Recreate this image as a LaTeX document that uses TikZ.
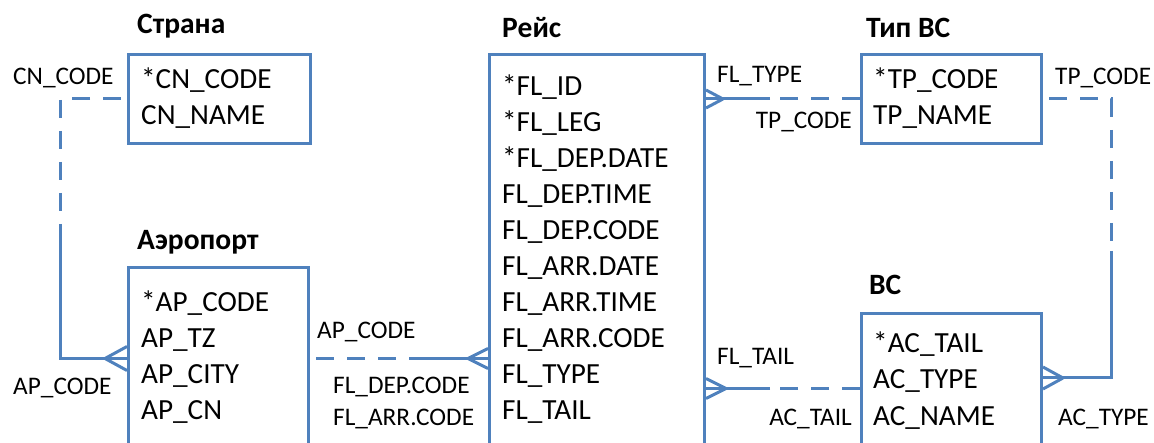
\documentclass[tikz,border=0pt]{standalone}
\usepackage{fontspec}
\setmainfont{Carlito}
\usetikzlibrary{calc}
\definecolor{erblue}{RGB}{79,129,189}
\newcommand\crowfoot[3]{%
  \draw[rel] ($(#1)+(#2,0)$) -- ($(#1)+(0,#3)$) ($(#1)+(#2,0)$) -- ($(#1)+(0,-#3)$);}
\begin{document}
\begin{tikzpicture}[x=1pt,y=-1pt,
  ent/.style={draw=erblue, line width=3pt, rectangle, inner sep=0pt, anchor=north west},
  fld/.style={anchor=base west, inner sep=0pt, font=\fontsize{29.2}{34}\selectfont},
  ttl/.style={anchor=base west, inner sep=0pt, font=\bfseries\fontsize{29.5}{33}\selectfont},
  lbl/.style={anchor=base west, inner sep=0pt, font=\fontsize{25.3}{29}\selectfont},
  lblr/.style={lbl, anchor=base east},
  rel/.style={draw=erblue, line width=3pt},
  opt/.style={rel, dash pattern=on 18pt off 13pt},
  optgap/.style={opt, dash phase=25pt},
]
\useasboundingbox (0,0) rectangle (1154,443);
\clip (0,0) rectangle (1154,443);

% entities
\node[ent, minimum width=182pt, minimum height=89pt] (strana) at (127,53) {};
\node[ent, minimum width=180pt, minimum height=182pt] (aero) at (127,266) {};
\node[ent, minimum width=215pt, minimum height=420pt] (reis) at (488,53) {};
\node[ent, minimum width=180pt, minimum height=89pt] (tip) at (860,53) {};
\node[ent, minimum width=180pt, minimum height=150pt] (vs) at (860,312) {};

% titles
\node[ttl] (tstrana) at (137,34) {Страна};
\node[ttl] (taero) at (137,250) {Аэропорт};
\node[ttl] (treis) at (502,38) {Рейс};
\node[ttl] (ttip) at (866,38) {Тип ВС};
\node[ttl] (tvs) at (869,295) {ВС};

% fields
\foreach \t [count=\i] in {*CN\_CODE, CN\_NAME}
  \node[fld] (fs\i) at (141,{89+36*(\i-1)}) {\t};
\foreach \t [count=\i] in {*AP\_CODE, AP\_TZ, AP\_CITY, AP\_CN}
  \node[fld] (fa\i) at (141,{312+36*(\i-1)}) {\t};
\foreach \t [count=\i] in {*FL\_ID, *FL\_LEG, *FL\_DEP.DATE, FL\_DEP.TIME, FL\_DEP.CODE, FL\_ARR.DATE, FL\_ARR.TIME, FL\_ARR.CODE, FL\_TYPE, FL\_TAIL}
  \node[fld] (fr\i) at (502,{96+36*(\i-1)}) {\t};
\foreach \t [count=\i] in {*TP\_CODE, TP\_NAME}
  \node[fld] (ft\i) at (873,{89+36*(\i-1)}) {\t};
\foreach \t [count=\i] in {*AC\_TAIL, AC\_TYPE, AC\_NAME}
  \node[fld] (fv\i) at (873,{353+36*(\i-1)}) {\t};

% connector labels
\node[lbl] (l1) at (13,85) {CN\_CODE};
\node[lbl] (l2) at (13,395) {AP\_CODE};
\node[lbl] (l3) at (317,339) {AP\_CODE};
\node[lbl] (l4) at (333,394) {FL\_DEP.CODE};
\node[lbl] (l5) at (333,425) {FL\_ARR.CODE};
\node[lbl] (l6) at (717,83) {FL\_TYPE};
\node[lblr] (l7) at (852,129) {TP\_CODE};
\node[lbl] (l8) at (717,365) {FL\_TAIL};
\node[lblr] (l9) at (852,425) {AC\_TAIL};
\node[lbl] (l10) at (1055,85) {TP\_CODE};
\node[lbl] (l11) at (1058,425) {AC\_TYPE};

% Страна - Аэропорт
\coordinate (b1) at ($(strana.west)+(-67,129)$);
\draw[optgap] (strana.west) -| (b1);
\draw[rel] (b1) |- (aero.west);
\crowfoot{aero.west}{-22}{12}

% Аэропорт - Рейс
\coordinate (b2) at ($(aero.east)+(101,0)$);
\coordinate (e2) at (reis.west |- aero.east);
\draw[optgap] (aero.east) -- (b2);
\draw[rel] (b2) -- (e2);
\crowfoot{e2}{-20}{10}

% Рейс - Тип ВС
\coordinate (b3) at ($(tip.west)+(-90,0)$);
\coordinate (e3) at (reis.east |- tip.west);
\draw[opt] (tip.west) -- (b3);
\draw[rel] (b3) -- (e3);
\crowfoot{e3}{17}{9}

% Рейс - ВС
\coordinate (b4) at ($(vs.west)+(-90,0)$);
\coordinate (e4) at (reis.east |- vs.west);
\draw[opt] (vs.west) -- (b4);
\draw[rel] (b4) -- (e4);
\crowfoot{e4}{20}{10}

% Тип ВС - ВС
\coordinate (b5) at ($(tip.east)+(68,0)$);
\coordinate (b6) at ($(b5)+(0,152)$);
\coordinate (e5) at ($(vs.north east)+(0,66)$);
\draw[optgap] (tip.east) -- (b5) -- (b6);
\draw[rel] (b6) |- (e5);
\crowfoot{e5}{20}{11}
\end{tikzpicture}
\end{document}
